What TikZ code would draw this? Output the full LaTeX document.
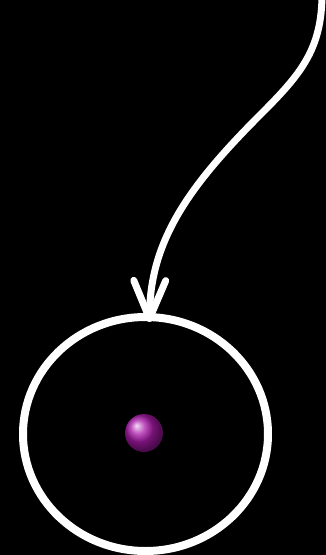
\documentclass[tikz,border=0pt]{standalone}
\usetikzlibrary{arrows.meta,shapes.geometric}

\definecolor{atomviolet}{RGB}{170,25,170}

\tikzset{
    orbitline/.style={draw=white, line width=8pt, ellipse, inner sep=0pt},
    nucleus/.style={circle, minimum size=38pt, inner sep=0pt, shading=ball, ball color=atomviolet},
    pointer/.style={white, line width=7pt, line cap=round,
        -{Straight Barb[length=38pt, width=32pt, round]}}
}

\begin{document}
\begin{tikzpicture}[x=1pt, y=-1pt]
    % 背景
    \fill[black] (0, 0) rectangle (326, 555);
    \useasboundingbox (0, 0) rectangle (326, 555);

    % 轨道与原子核
    \node[orbitline, minimum width=245pt, minimum height=234pt] (orbit) at (145.5, 434) {};
    \node[nucleus] (core) at (144, 433) {};

    % 箭头
    \coordinate (start) at (322, -6);
    \draw[pointer] (start) .. controls (322, 50) and (300, 75) .. (260, 115)
        .. controls (190, 185) and (150, 240) .. ([xshift=4pt, yshift=-9pt]orbit.north);
\end{tikzpicture}
\end{document}
